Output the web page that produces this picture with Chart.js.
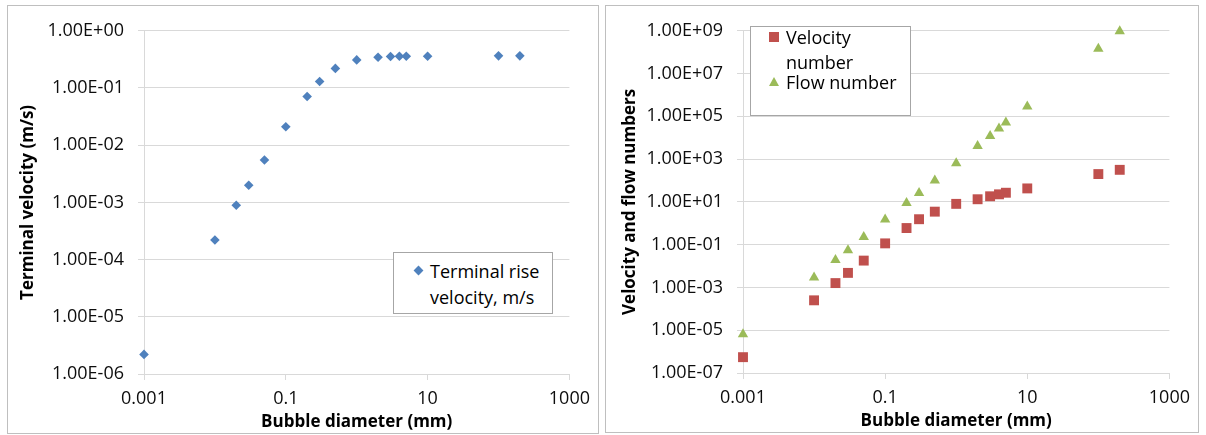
<!DOCTYPE html>
<html>
<head>
<meta charset="utf-8">
<title>Bubble rise velocity</title>
<script src="https://cdn.jsdelivr.net/npm/chart.js@4.4.0/dist/chart.umd.min.js"></script>
<style>
  html, body { margin: 0; padding: 0; background: #fff; }
  body { width: 1206px; height: 435px; position: relative; overflow: hidden; font-family: 'Open Sans', sans-serif; }
  .panel { position: absolute; border: 1px solid #bfbfbf; background: #fff; }
  .panel canvas { position: absolute; left: 0; top: 0; }
  .legend { position: absolute; border: 1px solid #a6a6a6; background: #fff; color: #000; font-size: 18px; }
  .legend .txt { position: absolute; white-space: nowrap; line-height: 20px; height: 20px; }
  .mk { position: absolute; }
  .diamond { width: 7px; height: 7px; background: #4f81bd; transform: rotate(45deg); }
  .square { width: 10px; height: 10px; background: #c0504d; }
  .tri { width: 0; height: 0; border-left: 5px solid transparent; border-right: 5px solid transparent; border-bottom: 9px solid #9bbb59; }
</style>
</head>
<body>

<div class="panel" style="left:7px; top:5px; width:590px; height:427px;">
  <canvas id="velocityChart" width="590" height="427"></canvas>
  <div class="legend" style="left:385px; top:246px; width:158px; height:60px;">
    <div class="mk diamond" style="left:21px; top:14px;"></div>
    <div class="txt" style="left:36px; top:8px;">Terminal rise</div>
    <div class="txt" style="left:36px; top:34px;">velocity, m/s</div>
  </div>
</div>

<div class="panel" style="left:605px; top:5px; width:592px; height:426px;">
  <canvas id="numbersChart" width="592" height="426"></canvas>
  <div class="legend" style="left:144px; top:20px; width:159px; height:88px;">
    <div class="mk square" style="left:18px; top:5px;"></div>
    <div class="txt" style="left:35px; top:0px;">Velocity</div>
    <div class="txt" style="left:35px; top:25px;">number</div>
    <div class="mk tri" style="left:18px; top:50px;"></div>
    <div class="txt" style="left:35px; top:45px;">Flow number</div>
  </div>
</div>

<script>
// bubble diameter (mm), shared by both charts
const diameters = [0.001, 0.01, 0.02, 0.03, 0.05, 0.1, 0.2, 0.3, 0.5, 1, 2, 3, 4, 5, 10, 100, 200];

// left chart: terminal rise velocity (m/s)
const terminalVelocity = [2.2e-6, 2.2e-4, 8.9e-4, 2.0e-3, 5.5e-3, 0.021, 0.071, 0.13, 0.22, 0.31, 0.345, 0.355, 0.36, 0.36, 0.36, 0.365, 0.365];

// right chart: dimensionless numbers
const velocityNumber = [5.5e-7, 2.5e-4, 1.6e-3, 4.8e-3, 0.018, 0.115, 0.6, 1.55, 3.5, 8.1, 13.3, 18.3, 22.6, 26.8, 42.7, 200, 316];
const flowNumber = [6.4e-6, 2.9e-3, 0.019, 0.055, 0.23, 1.5, 9.0, 26, 99, 640, 4100, 1.2e4, 2.7e4, 5.1e4, 2.9e5, 1.45e8, 9.4e8];

// tick values
const xTicks = [0.001, 0.1, 10, 1000];
const velocityTicks = [1e-6, 1e-5, 1e-4, 1e-3, 1e-2, 1e-1, 1];
const numberTicks = [1e-7, 1e-5, 1e-3, 1e-1, 1e1, 1e3, 1e5, 1e7, 1e9];

const gridColor = '#d9d9d9';
const tickColor = '#0d0d0d';
const fontFamily = "'Open Sans', sans-serif";

function sci(v) {
    const e = Math.round(Math.log10(v));
    return '1.00E' + (e < 0 ? '-' : '+') + String(Math.abs(e)).padStart(2, '0');
}

function points(ys) {
    return diameters.map((d, i) => ({ x: d, y: ys[i] }));
}

function buildOptions(cfg) {
    return {
        responsive: false,
        animation: false,
        layout: { padding: { top: cfg.top, right: cfg.right, bottom: 0, left: 0 } },
        plugins: { legend: { display: false }, tooltip: { enabled: false } },
        scales: {
            x: {
                type: 'logarithmic',
                min: 0.001,
                max: 1000,
                afterBuildTicks: s => { s.ticks = xTicks.map(v => ({ value: v })); },
                afterFit: s => { s.height = cfg.xHeight; },
                grid: { drawOnChartArea: false, drawTicks: true, tickLength: 6, color: gridColor },
                border: { color: gridColor },
                ticks: {
                    autoSkip: false, maxRotation: 0, padding: 8, color: tickColor,
                    font: { family: fontFamily, size: 18 },
                    callback: v => String(v)
                },
                title: {
                    display: true, text: 'Bubble diameter (mm)', color: '#000',
                    padding: { top: 0, bottom: 1 },
                    font: { family: fontFamily, size: 17, weight: 'bold' }
                }
            },
            y: {
                type: 'logarithmic',
                min: cfg.yTicks[0],
                max: cfg.yTicks[cfg.yTicks.length - 1],
                afterBuildTicks: s => { s.ticks = cfg.yTicks.map(v => ({ value: v })); },
                afterFit: s => { s.width = cfg.yWidth; },
                grid: { drawTicks: true, tickLength: 6, color: gridColor },
                border: { color: gridColor },
                ticks: {
                    autoSkip: false, padding: 14, color: tickColor,
                    font: { family: fontFamily, size: 18 },
                    callback: v => sci(v)
                },
                title: {
                    display: true, text: cfg.yTitle, color: '#000',
                    padding: { top: cfg.yTitlePad, bottom: 0 },
                    font: { family: fontFamily, size: 17, weight: 'bold' }
                }
            }
        }
    };
}

new Chart(document.getElementById('velocityChart'), {
    type: 'scatter',
    data: {
        datasets: [{
            label: 'Terminal rise velocity, m/s',
            data: points(terminalVelocity),
            pointStyle: 'rectRot',
            pointRadius: 4.8,
            backgroundColor: '#4f81bd',
            borderColor: '#4f81bd',
            borderWidth: 0,
            clip: false
        }]
    },
    options: buildOptions({
        top: 21, right: 25, xHeight: 59, yWidth: 136,
        yTicks: velocityTicks, yTitle: 'Terminal velocity (m/s)', yTitlePad: 10
    })
});

new Chart(document.getElementById('numbersChart'), {
    type: 'scatter',
    data: {
        datasets: [{
            label: 'Velocity number',
            data: points(velocityNumber),
            pointStyle: 'rect',
            pointRadius: 7,
            backgroundColor: '#c0504d',
            borderColor: '#c0504d',
            borderWidth: 0,
            clip: false
        }, {
            label: 'Flow number',
            data: points(flowNumber),
            pointStyle: 'triangle',
            pointRadius: 6,
            backgroundColor: '#9bbb59',
            borderColor: '#9bbb59',
            borderWidth: 0,
            clip: false
        }]
    },
    options: buildOptions({
        top: 19, right: 24, xHeight: 59, yWidth: 137,
        yTicks: numberTicks, yTitle: 'Velocity and flow numbers', yTitlePad: 14
    })
});
</script>
</body>
</html>
